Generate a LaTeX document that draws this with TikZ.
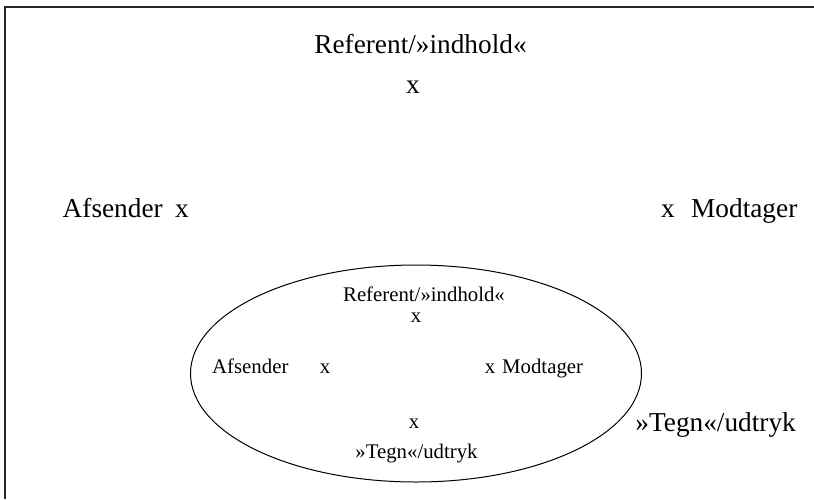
\documentclass[tikz,border=0pt]{standalone}
\usepackage{fontspec}
\usetikzlibrary{shapes.geometric}
\setmainfont{Liberation Serif}
\begin{document}
\begin{tikzpicture}[x=1pt,y=-1pt,
  big/.style={inner sep=0pt,font=\fontsize{27.3}{32}\selectfont},
  small/.style={inner sep=0pt,font=\fontsize{20.8}{25}\selectfont},
  frame/.style={line width=2.5pt,draw=black!85}]
\useasboundingbox (0,0) rectangle (814,499);
\coordinate (fl) at (5,499);
\coordinate (fc) at (5,7);
\coordinate (fr) at (814,7);
\draw[frame] (fl) -- (fc) -- (fr);
% outer
\node[big,anchor=base] (ref) at (420.5,53) {Referent/»indhold«};
\node[big,anchor=base] (refx) at (413,93) {x};
\node[big,anchor=base west] (afs) at (62.5,217) {Afsender};
\node[big,anchor=base] (afsx) at (182,217) {x};
\node[big,anchor=base] (modx) at (668,217) {x};
\node[big,anchor=base west] (mod) at (691,217) {Modtager};
\node[big,anchor=base east] (tegn) at (796,431) {»Tegn«/udtryk};
% ellipse
\node[draw,line width=1pt,ellipse,minimum width=451pt,minimum height=217pt,inner sep=0pt] (ell) at (416,373.5) {};
\node[small,anchor=base] (sref) at (424,301) {Referent/»indhold«};
\node[small,anchor=base] (srefx) at (416,322) {x};
\node[small,anchor=base west] (safs) at (212,373) {Afsender};
\node[small,anchor=base] (safsx) at (325,373) {x};
\node[small,anchor=base] (smodx) at (490,373) {x};
\node[small,anchor=base west] (smod) at (502,373) {Modtager};
\node[small,anchor=base] (stegnx) at (414,428) {x};
\node[small,anchor=base] (stegn) at (416.5,458) {»Tegn«/udtryk};
\end{tikzpicture}
\end{document}
